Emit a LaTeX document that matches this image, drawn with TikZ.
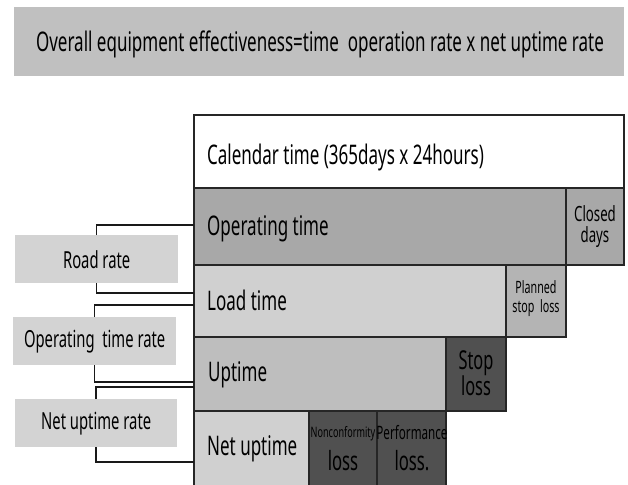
\documentclass[tikz,border=0pt]{standalone}
\usepackage{fontspec}
\newfontfamily\nf[FakeStretch=0.63]{Noto Sans}
\definecolor{titlegray}{HTML}{C0C0C0}
\definecolor{opgray}{HTML}{A8A8A8}
\definecolor{plangray}{HTML}{B4B4B4}
\definecolor{loadgray}{HTML}{D0D0D0}
\definecolor{upgray}{HTML}{BEBEBE}
\definecolor{lossgray}{HTML}{505050}
\definecolor{labgray}{HTML}{D3D3D3}
\newcommand{\fs}[1]{\nf\fontsize{#1}{#1}\selectfont}
\begin{document}
\begin{tikzpicture}[x=1pt,y=-1pt,
  cell/.style={draw=black!85, line width=1.4pt, anchor=north west, inner sep=0pt, outer sep=0pt},
  txt/.style={inner sep=0pt, anchor=west, font=\fs{27}},
  ctxt/.style={inner sep=0pt, align=center},
  rate/.style={fill=labgray, anchor=north west, inner sep=0pt, minimum height=48pt, font=\fs{23.5}},
  link/.style={draw=black!90, line width=1.5pt}]
\useasboundingbox (0,0) rectangle (628,484);

% heading
\node[fill=titlegray, anchor=north west, minimum width=610pt, minimum height=69pt, inner sep=0pt] (title) at (14,7) {};
\node[inner sep=0pt, font=\fs{27}] (titletext) at (320,44) {Overall equipment effectiveness=time\ \ operation rate x net uptime rate};

% time breakdown
\node[cell, fill=white, minimum width=430pt, minimum height=73pt] (cal) at (194,115) {};
\node[cell, fill=opgray, minimum width=372pt, minimum height=77pt] (op) at (194,188) {};
\node[cell, fill=opgray, minimum width=58pt, minimum height=77pt] (closed) at (566,188) {};
\node[cell, fill=loadgray, minimum width=312pt, minimum height=72pt] (load) at (194,265) {};
\node[cell, fill=plangray, minimum width=60pt, minimum height=72pt] (plan) at (506,265) {};
\node[cell, fill=upgray, minimum width=252pt, minimum height=74pt] (up) at (194,337) {};
\node[cell, fill=lossgray, minimum width=60pt, minimum height=74pt] (stop) at (446,337) {};
\node[cell, fill=loadgray, minimum width=115pt, minimum height=78pt] (net) at (194,411) {};
\node[cell, fill=lossgray, minimum width=68pt, minimum height=78pt] (noncon) at (309,411) {};
\node[cell, fill=lossgray, minimum width=69pt, minimum height=78pt] (perf) at (377,411) {};

\node[txt] (caltext) at (207,157) {Calendar time (365days x 24hours)};
\node[txt] (optext) at (207,229) {Operating time};
\node[txt] (loadtext) at (207,300) {Load time};
\node[txt] (uptext) at (208,375) {Uptime};
\node[txt] (nettext) at (207,449) {Net uptime};

\node[ctxt, font=\fs{21}] (closedtext) at (595,227) {Closed\\[0pt]days};
\node[ctxt, font=\fs{17}] (plantext) at (536,299) {Planned\\[2pt]stop\ \ loss};
\node[ctxt, font=\fs{26}] (stoptext) at (476,373) {Stop\\[0pt]loss};
\node[ctxt, font=\fs{14.4}] (nonctext) at (343,434) {Nonconformity};
\node[ctxt, font=\fs{26.5}] (nonclosstext) at (343,461) {loss};
\node[ctxt, font=\fs{18.5}] (perftext) at (412,433) {Performance};
\node[ctxt, font=\fs{26.5}] (perflosstext) at (412,461) {loss.};

% rate labels
\node[rate, minimum width=163pt] (road) at (15,235) {Road rate};
\node[rate, minimum width=163pt] (optr) at (13,317) {Operating\ \ time rate};
\node[rate, minimum width=162pt] (netr) at (15,399) {Net uptime rate};

% bracket ends on the left edge of the breakdown
\coordinate (a1) at (194,225);
\coordinate (a2) at (194,293);
\coordinate (b1) at (194,305);
\coordinate (b2) at (194,382);
\coordinate (c1) at (194,387);
\coordinate (c2) at (194,462);

\draw[link] (road.north) |- (a1);
\draw[link] (road.south) |- (a2);
\draw[link] (optr.north) |- (b1);
\draw[link] (optr.south) |- (b2);
\draw[link] (netr.north) |- (c1);
\draw[link] (netr.south) |- (c2);
\end{tikzpicture}
\end{document}
